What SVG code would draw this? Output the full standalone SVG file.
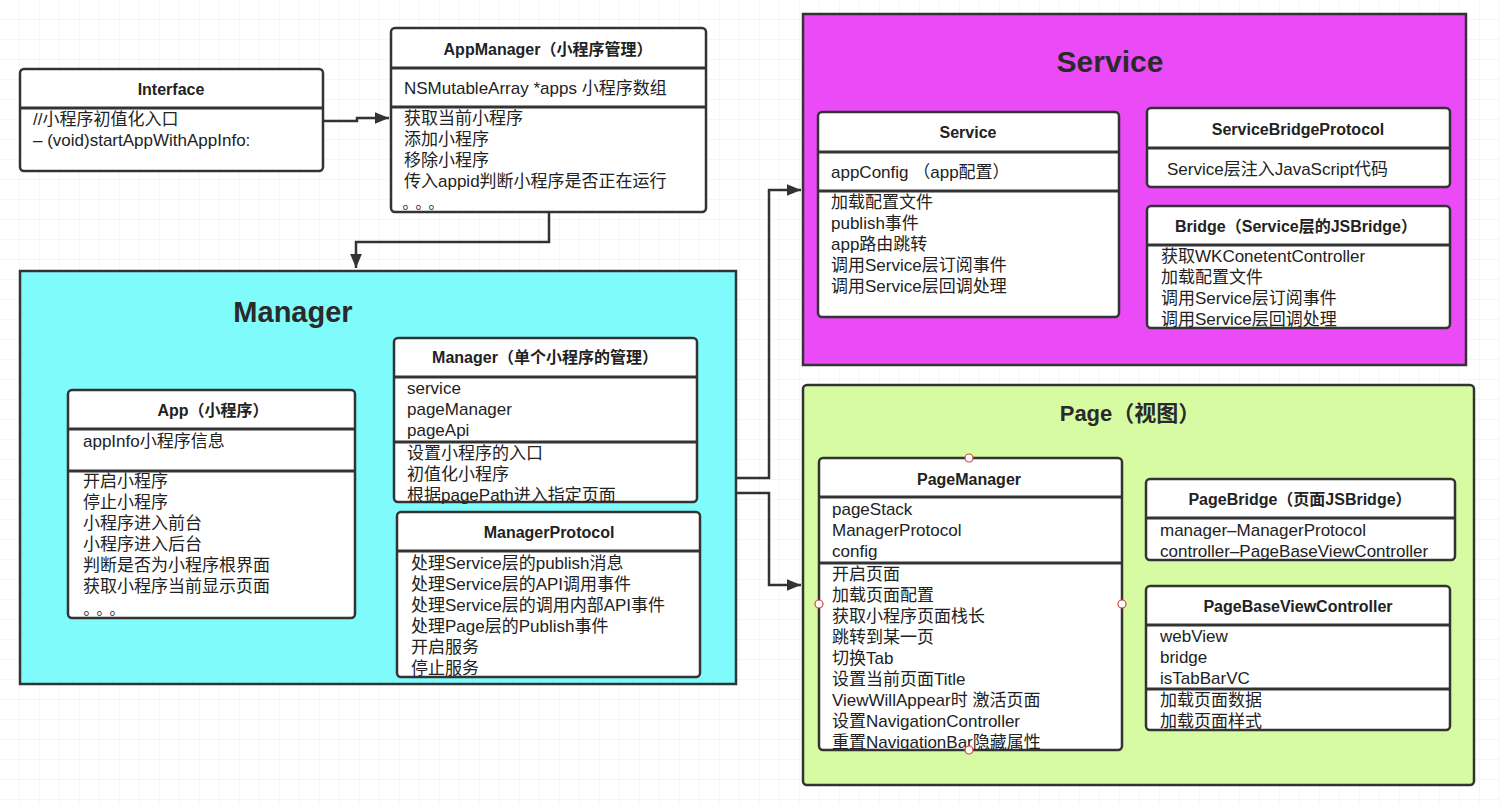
<svg xmlns="http://www.w3.org/2000/svg" width="1500" height="804" viewBox="0 0 1500 804">
<defs>
<pattern id="grid" width="20" height="20" patternUnits="userSpaceOnUse">
<path d="M20 0V20M0 20H20" fill="none" stroke="#ececec" stroke-width="1"/>
</pattern>
<marker id="arrL" viewBox="0 0 12 10" refX="12" refY="5" markerWidth="14" markerHeight="12" markerUnits="userSpaceOnUse" orient="auto">
<path d="M0 0L12 5L0 10Z" fill="#333"/>
</marker>
</defs>
<style>
text{font-family:"Liberation Sans","Noto Sans CJK SC",sans-serif;fill:#222;}
.t{font-size:16px;font-weight:bold;text-anchor:middle;}
.i{font-size:17px;}
.d{font-size:15px;font-family:"Noto Sans CJK SC",sans-serif;text-anchor:middle;}
.big{font-weight:bold;text-anchor:middle;fill:#2a2a2a;}
.box{fill:#fff;stroke:#333;stroke-width:2.5;}
.sep{stroke:#333;stroke-width:3;fill:none;}
.cont{stroke:#333;stroke-width:2.5;}
.con{fill:none;stroke:#333;stroke-width:2.5;}
.pt{fill:#fff;stroke:#c44;stroke-width:1.2;}
</style>
<rect width="1500" height="804" fill="#fff"/>
<rect width="1500" height="804" fill="url(#grid)"/>

<g id="manager-container">
<rect class="cont" x="20" y="271" width="716" height="413" fill="#80fbfb"/>
<text class="big" x="293" y="322" font-size="29">Manager</text>
</g>
<g id="service-container">
<rect class="cont" x="803" y="14" width="663" height="351" fill="#ea4bf6"/>
<text class="big" x="1110" y="72" font-size="30">Service</text>
</g>
<g id="page-container">
<rect class="cont" x="803" y="385" width="671" height="400" rx="4" fill="#d6fba2"/>
<text class="big" x="1130" y="421" font-size="22">Page（视图）</text>
</g>

<g id="connectors">
<path class="con" d="M323 121H357V118H389" marker-end="url(#arrL)"/>
<path class="con" d="M549 212V242H356V268" marker-end="url(#arrL)"/>
<path class="con" d="M736 478H769V190H801" marker-end="url(#arrL)"/>
<path class="con" d="M736 493H769V585H801" marker-end="url(#arrL)"/>
</g>

<g id="interface">
<rect class="box" x="20" y="69" width="303" height="102" rx="4"/>
<line class="sep" x1="20" y1="108" x2="323" y2="108"/>
<text class="t" x="171" y="95">Interface</text>
<text class="i" x="33" y="125">//小程序初值化入口</text>
<text class="i" x="33" y="146">– (void)startAppWithAppInfo:</text>
</g>

<g id="appmanager">
<rect class="box" x="391" y="28" width="315" height="184" rx="4"/>
<line class="sep" x1="391" y1="68" x2="706" y2="68"/>
<line class="sep" x1="391" y1="107" x2="706" y2="107"/>
<text class="t" x="548" y="55">AppManager（小程序管理）</text>
<text class="i" x="404" y="94">NSMutableArray *apps 小程序数组</text>
<text class="i" x="404" y="124">获取当前小程序</text>
<text class="i" x="404" y="145">添加小程序</text>
<text class="i" x="404" y="166">移除小程序</text>
<text class="i" x="404" y="187">传入appid判断小程序是否正在运行</text>
<text class="d" x="410" y="208">。</text>
<text class="d" x="423" y="208">。</text>
<text class="d" x="436" y="208">。</text>
</g>

<g id="app">
<rect class="box" x="68" y="390" width="287" height="228" rx="4"/>
<line class="sep" x1="68" y1="429" x2="355" y2="429"/>
<line class="sep" x1="68" y1="471" x2="355" y2="471"/>
<text class="t" x="213" y="416">App（小程序）</text>
<text class="i" x="83" y="447">appInfo小程序信息</text>
<text class="i" x="83" y="487">开启小程序</text>
<text class="i" x="83" y="508">停止小程序</text>
<text class="i" x="83" y="529">小程序进入前台</text>
<text class="i" x="83" y="550">小程序进入后台</text>
<text class="i" x="83" y="571">判断是否为小程序根界面</text>
<text class="i" x="83" y="592">获取小程序当前显示页面</text>
<text class="d" x="91" y="614">。</text>
<text class="d" x="104" y="614">。</text>
<text class="d" x="117" y="614">。</text>
</g>

<g id="manager-single">
<rect class="box" x="394" y="338" width="303" height="164" rx="4"/>
<line class="sep" x1="394" y1="377" x2="697" y2="377"/>
<line class="sep" x1="394" y1="442" x2="697" y2="442"/>
<text class="t" x="545" y="363">Manager（单个小程序的管理）</text>
<text class="i" x="407" y="394">service</text>
<text class="i" x="407" y="415">pageManager</text>
<text class="i" x="407" y="436">pageApi</text>
<text class="i" x="407" y="459">设置小程序的入口</text>
<text class="i" x="407" y="480">初值化小程序</text>
<text class="i" x="407" y="501">根据pagePath进入指定页面</text>
</g>

<g id="manager-protocol">
<rect class="box" x="397" y="512" width="303" height="165" rx="4"/>
<line class="sep" x1="397" y1="551" x2="700" y2="551"/>
<text class="t" x="549" y="538">ManagerProtocol</text>
<text class="i" x="411" y="569">处理Service层的publish消息</text>
<text class="i" x="411" y="590">处理Service层的API调用事件</text>
<text class="i" x="411" y="611">处理Service层的调用内部API事件</text>
<text class="i" x="411" y="632">处理Page层的Publish事件</text>
<text class="i" x="411" y="653">开启服务</text>
<text class="i" x="411" y="674">停止服务</text>
</g>

<g id="service">
<rect class="box" x="818" y="112" width="301" height="205" rx="4"/>
<line class="sep" x1="818" y1="152" x2="1119" y2="152"/>
<line class="sep" x1="818" y1="191" x2="1119" y2="191"/>
<text class="t" x="968" y="138">Service</text>
<text class="i" x="831" y="178">appConfig （app配置）</text>
<text class="i" x="831" y="208">加载配置文件</text>
<text class="i" x="831" y="229">publish事件</text>
<text class="i" x="831" y="250">app路由跳转</text>
<text class="i" x="831" y="271">调用Service层订阅事件</text>
<text class="i" x="831" y="292">调用Service层回调处理</text>
</g>

<g id="service-bridge-protocol">
<rect class="box" x="1147" y="108" width="303" height="79" rx="4"/>
<line class="sep" x1="1147" y1="148" x2="1450" y2="148"/>
<text class="t" x="1298" y="135">ServiceBridgeProtocol</text>
<text class="i" x="1167" y="175">Service层注入JavaScript代码</text>
</g>

<g id="bridge">
<rect class="box" x="1147" y="206" width="303" height="122" rx="4"/>
<line class="sep" x1="1147" y1="245" x2="1450" y2="245"/>
<text class="t" x="1296" y="232">Bridge（Service层的JSBridge）</text>
<text class="i" x="1161" y="262">获取WKConetentController</text>
<text class="i" x="1161" y="283">加载配置文件</text>
<text class="i" x="1161" y="304">调用Service层订阅事件</text>
<text class="i" x="1161" y="325">调用Service层回调处理</text>
</g>

<g id="pagemanager">
<rect class="box" x="819" y="458" width="303" height="292" rx="4"/>
<line class="sep" x1="819" y1="497" x2="1122" y2="497"/>
<line class="sep" x1="819" y1="563" x2="1122" y2="563"/>
<text class="t" x="969" y="485">PageManager</text>
<text class="i" x="832" y="515">pageStack</text>
<text class="i" x="832" y="536">ManagerProtocol</text>
<text class="i" x="832" y="557">config</text>
<text class="i" x="832" y="580">开启页面</text>
<text class="i" x="832" y="601">加载页面配置</text>
<text class="i" x="832" y="622">获取小程序页面栈长</text>
<text class="i" x="832" y="643">跳转到某一页</text>
<text class="i" x="832" y="664">切换Tab</text>
<text class="i" x="832" y="685">设置当前页面Title</text>
<text class="i" x="832" y="706">ViewWillAppear时 激活页面</text>
<text class="i" x="832" y="727">设置NavigationController</text>
<text class="i" x="832" y="748">重置NavigationBar隐藏属性</text>
<circle class="pt" cx="969" cy="458" r="4"/>
<circle class="pt" cx="819" cy="604" r="4"/>
<circle class="pt" cx="1122" cy="604" r="4"/>
<circle class="pt" cx="969" cy="750" r="4"/>
</g>

<g id="pagebridge">
<rect class="box" x="1146" y="479" width="309" height="81" rx="4"/>
<line class="sep" x1="1146" y1="518" x2="1455" y2="518"/>
<text class="t" x="1300" y="505">PageBridge（页面JSBridge）</text>
<text class="i" x="1160" y="536">manager–ManagerProtocol</text>
<text class="i" x="1160" y="557">controller–PageBaseViewController</text>
</g>

<g id="pagebaseviewcontroller">
<rect class="box" x="1146" y="586" width="304" height="144" rx="4"/>
<line class="sep" x1="1146" y1="625" x2="1450" y2="625"/>
<line class="sep" x1="1146" y1="689" x2="1450" y2="689"/>
<text class="t" x="1298" y="612">PageBaseViewController</text>
<text class="i" x="1160" y="642">webView</text>
<text class="i" x="1160" y="663">bridge</text>
<text class="i" x="1160" y="684">isTabBarVC</text>
<text class="i" x="1160" y="706">加载页面数据</text>
<text class="i" x="1160" y="727">加载页面样式</text>
</g>
</svg>
